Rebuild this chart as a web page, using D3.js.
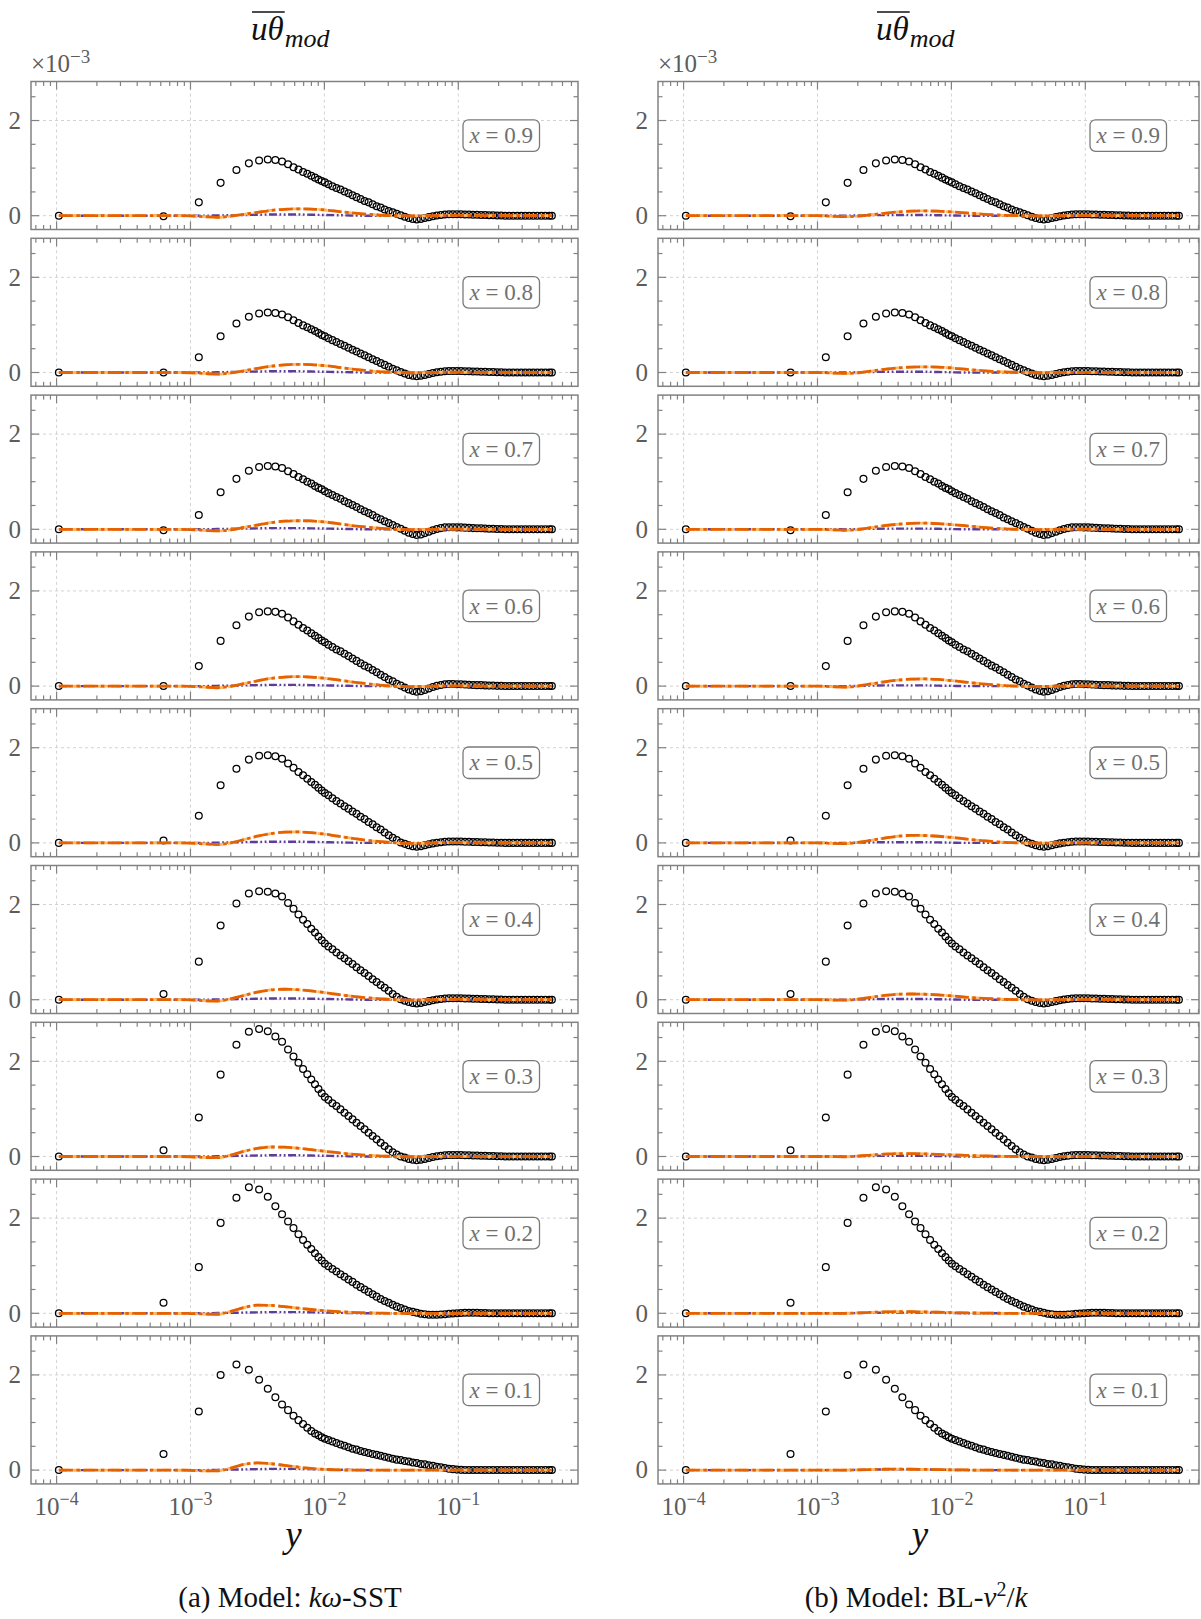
<!DOCTYPE html>
<html><head><meta charset="utf-8">
<script src="https://cdn.jsdelivr.net/npm/d3@7/dist/d3.min.js"></script>
<style>
html,body{margin:0;padding:0;background:#fff;}
svg{display:block;}
text{font-family:"Liberation Serif","DejaVu Serif",serif;}
</style></head><body>
<svg id="chart" width="1201" height="1619"></svg>
<script>
// ---------------- data ----------------
const stations = ["0.9","0.8","0.7","0.6","0.5","0.4","0.3","0.2","0.1"];

// wall-normal positions of the DNS samples (open circles)
const dnsY = [1.04e-4, 6.29e-4, 1.154e-3, 1.679e-3, 2.204e-3, 2.729e-3, 3.254e-3, 3.779e-3, 4.304e-3, 4.829e-3,
  5.354e-3, 5.879e-3, 6.404e-3, 6.929e-3, 7.454e-3, 7.979e-3, 8.504e-3, 9.029e-3, 9.554e-3, 1.008e-2,
  0.01072, 0.01148, 0.01230, 0.01318, 0.01413, 0.01514, 0.01622, 0.01738, 0.01862, 0.01995,
  0.02138, 0.02291, 0.02455, 0.02630, 0.02818, 0.03020, 0.03236, 0.03467, 0.03715, 0.03981,
  0.04266, 0.04571, 0.04898, 0.05248, 0.05623, 0.06026, 0.06457, 0.06918, 0.07413, 0.07943,
  0.08511, 0.09120, 0.09772, 0.1047, 0.1122, 0.1202, 0.1288, 0.1380, 0.1479, 0.1585,
  0.1698, 0.1820, 0.1950, 0.2089, 0.2239, 0.2399, 0.2570, 0.2754, 0.2951, 0.3162,
  0.3388, 0.3631, 0.3890, 0.4169, 0.4467, 0.4786, 0.5000];

// outer-region values (y >= 0.04) shared by the upper stations
const tailShallow = [-0.02,-0.05,-0.07,-0.08,-0.07,-0.05,-0.03,-0.01,0.005,0.015,0.025,0.03,0.03,0.03,0.03,0.025,0.025,0.02,0.02,0.015,0.015,0.01,0.01,0.005,0.005,0,
  0,0,0,0,0,0,0,0,0,0,0,0];
const tailDeep = [-0.03,-0.07,-0.10,-0.12,-0.11,-0.08,-0.05,-0.02,0.005,0.025,0.04,0.045,0.045,0.04,0.04,0.035,0.03,0.025,0.02,0.02,0.015,0.01,0.01,0.005,0.005,0,
  0,0,0,0,0,0,0,0,0,0,0,0];

// DNS u-theta (x 1e-3) for each station
const dns09 = [0,-0.01,0.28,0.69,0.96,1.10,1.16,1.18,1.17,1.14,1.08,1.02,0.97,0.92,0.88,0.84,0.80,0.76,0.73,0.70,
  0.66,0.62,0.58,0.55,0.51,0.47,0.43,0.39,0.35,0.31,0.28,0.24,0.20,0.17,0.13,0.10,0.07,0.04,0.01, ...tailShallow];
const dns08 = [0,0,0.32,0.76,1.03,1.17,1.24,1.26,1.25,1.22,1.16,1.10,1.04,0.99,0.95,0.91,0.87,0.83,0.79,0.76,
  0.72,0.68,0.64,0.60,0.56,0.52,0.48,0.44,0.40,0.36,0.32,0.28,0.24,0.20,0.16,0.12,0.08,0.045,0.01, ...tailShallow];
const dns07 = [0,-0.02,0.30,0.78,1.06,1.23,1.31,1.33,1.32,1.29,1.22,1.16,1.10,1.05,1.00,0.96,0.91,0.87,0.84,0.80,
  0.76,0.72,0.68,0.64,0.59,0.55,0.51,0.47,0.42,0.38,0.34,0.30,0.25,0.21,0.17,0.13,0.09,0.05,0.01, ...tailDeep];
const dns06 = [0,0,0.42,0.95,1.28,1.46,1.55,1.57,1.56,1.52,1.44,1.36,1.29,1.22,1.17,1.11,1.06,1.01,0.96,0.92,
  0.87,0.82,0.77,0.73,0.68,0.63,0.58,0.53,0.48,0.43,0.39,0.34,0.29,0.24,0.19,0.14,0.10,0.05,0.01, ...tailDeep];
const dns05 = [0,0.05,0.57,1.21,1.56,1.75,1.83,1.84,1.82,1.77,1.67,1.58,1.49,1.42,1.35,1.28,1.22,1.16,1.10,1.05,
  1.00,0.94,0.88,0.83,0.77,0.72,0.66,0.61,0.55,0.50,0.44,0.39,0.33,0.28,0.22,0.16,0.11,0.06,0.01, ...tailShallow];
const dns04 = [0,0.12,0.80,1.56,2.02,2.23,2.28,2.27,2.23,2.17,2.03,1.91,1.79,1.68,1.59,1.49,1.41,1.33,1.25,1.18,
  1.12,1.06,0.99,0.93,0.87,0.81,0.75,0.68,0.62,0.56,0.50,0.43,0.37,0.31,0.25,0.19,0.12,0.06,0.01, ...tailShallow];
const dns03 = [0,0.13,0.82,1.72,2.35,2.62,2.68,2.63,2.52,2.41,2.25,2.10,1.97,1.84,1.73,1.62,1.52,1.42,1.33,1.25,
  1.19,1.12,1.06,0.99,0.92,0.85,0.78,0.71,0.64,0.57,0.50,0.43,0.36,0.29,0.22,0.15,0.09,0.04,0.0, ...tailShallow];
const dns02 = [0,0.22,0.97,1.90,2.43,2.65,2.60,2.45,2.25,2.08,1.93,1.79,1.66,1.54,1.44,1.35,1.26,1.18,1.11,1.04,
  0.99,0.93,0.88,0.82,0.77,0.71,0.66,0.60,0.55,0.50,0.45,0.40,0.35,0.30,0.26,0.22,0.18,0.14,0.11,0.08,
  0.05,0.03,0.01,-0.01,-0.02,-0.03,-0.03,-0.03,-0.025,-0.02,-0.01,-0.005,0.0,0.005,0.01,0.01,0.01,0.01,0.005,0.005,
  0,0,0,0,0,0,0,0,0,0,0,0,0,0,0,0,0];
const dns01 = [0,0.34,1.23,2.00,2.22,2.11,1.90,1.71,1.53,1.38,1.26,1.14,1.05,0.97,0.89,0.82,0.77,0.73,0.69,0.66,
  0.63,0.60,0.57,0.54,0.51,0.48,0.45,0.43,0.40,0.38,0.36,0.34,0.32,0.30,0.28,0.26,0.24,0.22,0.21,0.19,
  0.18,0.16,0.15,0.13,0.12,0.10,0.09,0.07,0.06,0.045,0.03,0.02,0.01,0.005,0.0,
  0,0,0,0,0,0,0,0,0,0,0,0,0,0,0,0,0,0,0,0,0,0];
const dnsProfiles = [dns09, dns08, dns07, dns06, dns05, dns04, dns03, dns02, dns01];

// positions of the model curves
const modelY = [1.04e-4, 2.0e-4, 4.0e-4, 6.3e-4, 8.0e-4, 1.0e-3, 1.26e-3, 1.58e-3, 2.0e-3, 2.51e-3,
  3.16e-3, 3.98e-3, 5.01e-3, 6.31e-3, 7.94e-3, 1.0e-2, 1.26e-2, 1.58e-2, 2.0e-2, 2.51e-2,
  3.16e-2, 3.98e-2, 5.01e-2, 6.31e-2, 7.94e-2, 0.1, 0.158, 0.251, 0.398, 0.5];

// k-omega SST model (orange)
const sst09 = [0,0,0,0,0,-0.005,-0.02,-0.035,-0.01,0.03,0.07,0.11,0.135,0.145,0.14,0.12,0.09,0.06,0.035,0.015,0.003,-0.005,-0.005,0,0.005,0.005,0,0,0,0];
const sst08 = [0,0,0,0,0,-0.005,-0.02,-0.035,-0.01,0.035,0.085,0.13,0.16,0.17,0.165,0.145,0.11,0.075,0.045,0.02,0.005,-0.005,-0.005,0,0.005,0.005,0,0,0,0];
const sst07 = [0,0,0,0,0,-0.005,-0.02,-0.035,-0.01,0.04,0.09,0.14,0.17,0.18,0.175,0.155,0.12,0.08,0.05,0.025,0.005,-0.005,-0.008,0,0.005,0.005,0,0,0,0];
const sst06 = [0,0,0,0,0,-0.005,-0.02,-0.035,-0.005,0.05,0.11,0.16,0.19,0.20,0.19,0.165,0.13,0.09,0.055,0.025,0.005,-0.01,-0.01,0,0.005,0.005,0,0,0,0];
const sst05 = [0,0,0,0,0,-0.005,-0.02,-0.035,0.0,0.07,0.14,0.195,0.225,0.23,0.215,0.185,0.14,0.10,0.06,0.03,0.01,-0.01,-0.01,0,0.005,0.005,0,0,0,0];
const sst04 = [0,0,0,0,0,-0.005,-0.02,-0.03,0.02,0.09,0.16,0.205,0.22,0.21,0.185,0.15,0.11,0.075,0.045,0.02,0.005,-0.01,-0.008,0,0.005,0.005,0,0,0,0];
const sst03 = [0,0,0,0,0,-0.005,-0.02,-0.025,0.03,0.11,0.17,0.20,0.195,0.175,0.145,0.11,0.08,0.05,0.03,0.012,0.003,-0.005,-0.005,0,0.005,0.003,0,0,0,0];
const sst02 = [0,0,0,0,0,-0.005,-0.015,-0.02,0.04,0.12,0.17,0.165,0.14,0.11,0.08,0.055,0.035,0.02,0.01,0.005,0,0,0,0,0,0,0,0,0,0];
const sst01 = [0,0,0,0,0,-0.005,-0.015,-0.015,0.04,0.12,0.15,0.135,0.10,0.065,0.035,0.015,0.005,0,0,0,0,0,0,0,0,0,0,0,0,0];
const sstOrange = [sst09, sst08, sst07, sst06, sst05, sst04, sst03, sst02, sst01];

// BL-v2/k model (orange)
const v2f09 = [0,0,0,0,0,0,-0.01,-0.02,-0.01,0.02,0.05,0.08,0.095,0.10,0.095,0.08,0.06,0.04,0.02,0.008,0,-0.005,-0.005,0,0.003,0.003,0,0,0,0];
const v2f08 = [0,0,0,0,0,0,-0.01,-0.02,-0.005,0.03,0.065,0.095,0.115,0.12,0.115,0.095,0.07,0.045,0.025,0.01,0,-0.005,-0.005,0,0.003,0.003,0,0,0,0];
const v2f07 = [0,0,0,0,0,0,-0.01,-0.02,-0.005,0.035,0.075,0.105,0.125,0.13,0.12,0.10,0.075,0.05,0.025,0.01,0,-0.005,-0.005,0,0.003,0.003,0,0,0,0];
const v2f06 = [0,0,0,0,0,0,-0.01,-0.02,0.0,0.045,0.09,0.125,0.145,0.15,0.14,0.115,0.085,0.055,0.03,0.012,0,-0.005,-0.005,0,0.003,0.003,0,0,0,0];
const v2f05 = [0,0,0,0,0,0,-0.01,-0.015,0.01,0.055,0.10,0.14,0.16,0.155,0.14,0.115,0.085,0.055,0.03,0.012,0,-0.005,-0.005,0,0.003,0.003,0,0,0,0];
const v2f04 = [0,0,0,0,0,0,-0.005,-0.01,0.01,0.05,0.09,0.115,0.12,0.115,0.10,0.08,0.055,0.035,0.02,0.008,0,-0.003,-0.003,0,0,0,0,0,0,0];
const v2f03 = [0,0,0,0,0,0,0,-0.005,0.01,0.03,0.05,0.06,0.06,0.055,0.045,0.035,0.025,0.015,0.008,0.003,0,0,0,0,0,0,0,0,0,0];
const v2f02 = [0,0,0,0,0,0,0,0,0.008,0.02,0.03,0.035,0.033,0.028,0.022,0.016,0.01,0.006,0.003,0,0,0,0,0,0,0,0,0,0,0];
const v2f01 = [0,0,0,0,0,0,0,0,0.005,0.012,0.018,0.02,0.018,0.014,0.01,0.006,0.003,0,0,0,0,0,0,0,0,0,0,0,0,0];
const v2fOrange = [v2f09, v2f08, v2f07, v2f06, v2f05, v2f04, v2f03, v2f02, v2f01];

// purple component (near zero)
const sstPurple = [0,0,0,0,0,0,0,0.005,0.01,0.015,0.02,0.025,0.025,0.025,0.02,0.015,0.01,0.005,0,0,0,0,0,0,0,0,0,0,0,0];
const v2fPurple = [0,0,0,0,0,0,0,0,0.005,0.01,0.015,0.015,0.015,0.015,0.01,0.005,0,0,0,0,0,0,0,0,0,0,0,0,0,0];

const xMajorTicks = [1e-4, 1e-3, 1e-2, 1e-1];
const xTickExponents = ["\u22124", "\u22123", "\u22122", "\u22121"];
const yMajorTicks = [0, 2];
const yMinorTicks = [0.5, 1, 1.5, 2.5];

// ---------------- layout ----------------
const svg = d3.select("#chart");
const panelTop0 = 81.5, pitch = 156.8, panelH = 148;
const yDomain = [-0.29, 2.82];
const frameColor = "#828282";
const tickLabelColor = "#5c5c5c";
const majorLen = 8, minorLen = 4.5;

const columns = [
  {left: 31, right: 578, logMin: -4.191, logMax: -0.106, orange: sstOrange, purple: sstPurple, titleX: 251, labelX: 293.5, captionX: 290},
  {left: 658, right: 1199, logMin: -4.191, logMax: -0.151, orange: v2fOrange, purple: v2fPurple, titleX: 876, labelX: 920, captionX: 916}
];

columns.forEach((col, ci) => {
  const x = d3.scaleLog().domain([Math.pow(10, col.logMin), Math.pow(10, col.logMax)]).range([col.left, col.right]);
  const allTicks = x.ticks();
  const isMajor = t => Math.abs(Math.log10(t) - Math.round(Math.log10(t))) < 1e-6;

  stations.forEach((st, k) => {
    const top = panelTop0 + k * pitch, bottom = top + panelH;
    const y = d3.scaleLinear().domain(yDomain).range([bottom, top]);
    const g = svg.append("g");
    const cid = `clip-${ci}-${k}`;
    g.append("clipPath").attr("id", cid).append("rect")
      .attr("x", col.left).attr("y", top).attr("width", col.right - col.left).attr("height", panelH);

    // grid
    const grid = g.append("g").attr("stroke", "#cdcdcd").attr("stroke-width", 0.9).attr("stroke-dasharray", "3,3");
    xMajorTicks.forEach(t => grid.append("line").attr("x1", x(t)).attr("x2", x(t)).attr("y1", top).attr("y2", bottom));
    yMajorTicks.forEach(v => grid.append("line").attr("x1", col.left).attr("x2", col.right).attr("y1", y(v)).attr("y2", y(v)));

    const plot = g.append("g").attr("clip-path", `url(#${cid})`);
    // DNS circles
    plot.append("g").selectAll("circle")
      .data(dnsY.map((yy, i) => [yy, dnsProfiles[k][i]]))
      .join("circle")
      .attr("cx", d => x(d[0])).attr("cy", d => y(d[1])).attr("r", 3.4)
      .attr("fill", "none").attr("stroke", "#000").attr("stroke-width", 1.25);

    const line = d3.line().x(d => x(d[0])).y(d => y(d[1])).curve(d3.curveMonotoneX);
    const pts = arr => modelY.map((yy, i) => [yy, arr[i]]);
    plot.append("path").attr("d", line(pts(col.purple))).attr("fill", "none")
      .attr("stroke", "#5e3c99").attr("stroke-width", 2.4).attr("stroke-dasharray", "8,2.5,1.8,2.5,1.8,2.5");
    plot.append("path").attr("d", line(pts(col.orange[k]))).attr("fill", "none")
      .attr("stroke", "#fdb863").attr("stroke-width", 2.8).attr("stroke-dasharray", "9,4");
    plot.append("path").attr("d", line(pts(col.orange[k]))).attr("fill", "none")
      .attr("stroke", "#e66100").attr("stroke-width", 2.8).attr("stroke-dasharray", "14,3.5,3.5,3.5");

    // frame
    g.append("rect").attr("x", col.left).attr("y", top).attr("width", col.right - col.left).attr("height", panelH)
      .attr("fill", "none").attr("stroke", frameColor).attr("stroke-width", 1.5);

    // ticks
    const tk = g.append("g").attr("stroke", frameColor).attr("stroke-width", 1.2);
    allTicks.forEach(t => {
      const L = isMajor(t) ? majorLen : minorLen;
      const xx = x(t);
      tk.append("line").attr("x1", xx).attr("x2", xx).attr("y1", bottom).attr("y2", bottom - L);
      tk.append("line").attr("x1", xx).attr("x2", xx).attr("y1", top).attr("y2", top + L);
    });
    yMajorTicks.concat(yMinorTicks).forEach(v => {
      const L = yMajorTicks.includes(v) ? majorLen : minorLen;
      const yy = y(v);
      tk.append("line").attr("x1", col.left).attr("x2", col.left + L).attr("y1", yy).attr("y2", yy);
      tk.append("line").attr("x1", col.right).attr("x2", col.right - L).attr("y1", yy).attr("y2", yy);
    });

    // y tick labels
    yMajorTicks.forEach(v => {
      g.append("text").attr("x", col.left - 10).attr("y", y(v) + 8.3)
        .attr("text-anchor", "end").attr("font-size", 25).attr("fill", tickLabelColor).text(v);
    });

    // station label
    const bx = col.left + 432, by = top + 38.3;
    g.append("rect").attr("x", bx).attr("y", by).attr("width", 76.5).attr("height", 31.5).attr("rx", 5.5)
      .attr("fill", "#fff").attr("stroke", "#7a7a7a").attr("stroke-width", 1.3);
    const lt = g.append("text").attr("x", bx + 38.25).attr("y", by + 23.3).attr("text-anchor", "middle")
      .attr("font-size", 23).attr("fill", "#707070");
    lt.append("tspan").attr("font-style", "italic").text("x");
    lt.append("tspan").text(" = " + st);

    // x tick labels on bottom panel
    if (k === stations.length - 1) {
      xMajorTicks.forEach((t, i) => {
        const tt = g.append("text").attr("x", x(t)).attr("y", bottom + 31).attr("text-anchor", "middle")
          .attr("font-size", 25).attr("fill", tickLabelColor);
        tt.append("tspan").text("10");
        tt.append("tspan").attr("font-size", 18).attr("dy", -10).text(xTickExponents[i]);
      });
    }
  });

  // multiplier
  const mul = svg.append("text").attr("x", col.left).attr("y", 71.5).attr("font-size", 25).attr("fill", tickLabelColor);
  mul.append("tspan").text("\u00d710");
  mul.append("tspan").attr("font-size", 19).attr("dy", -9).text("\u22123");

  // title: overline(u theta)_mod
  const t1 = svg.append("text").attr("x", col.titleX).attr("y", 39.5).attr("font-size", 33)
    .attr("font-style", "italic").attr("fill", "#111").text("u\u03b8");
  const w1 = t1.node().getComputedTextLength();
  svg.append("text").attr("x", col.titleX + w1 + 1).attr("y", 46.7).attr("font-size", 26)
    .attr("font-style", "italic").attr("fill", "#111").text("mod");
  svg.append("line").attr("x1", col.titleX + 1).attr("x2", col.titleX + w1 + 1)
    .attr("y1", 12).attr("y2", 12).attr("stroke", "#111").attr("stroke-width", 1.6);

  // axis label
  svg.append("text").attr("x", col.labelX).attr("y", 1547).attr("text-anchor", "middle")
    .attr("font-size", 37).attr("font-style", "italic").attr("fill", "#111").text("y");
});

// captions
const capA = svg.append("text").attr("x", columns[0].captionX).attr("y", 1607).attr("text-anchor", "middle")
  .attr("font-size", 29).attr("fill", "#111");
capA.append("tspan").text("(a) Model: ");
capA.append("tspan").attr("font-style", "italic").text("k\u03c9");
capA.append("tspan").text("-SST");

const capB = svg.append("text").attr("x", columns[1].captionX).attr("y", 1607).attr("text-anchor", "middle")
  .attr("font-size", 29).attr("fill", "#111");
capB.append("tspan").text("(b) Model: BL-");
capB.append("tspan").attr("font-style", "italic").text("v");
capB.append("tspan").attr("font-size", 20).attr("dy", -11).text("2");
capB.append("tspan").attr("dy", 11).text("/");
capB.append("tspan").attr("font-style", "italic").text("k");
</script>
</body></html>
